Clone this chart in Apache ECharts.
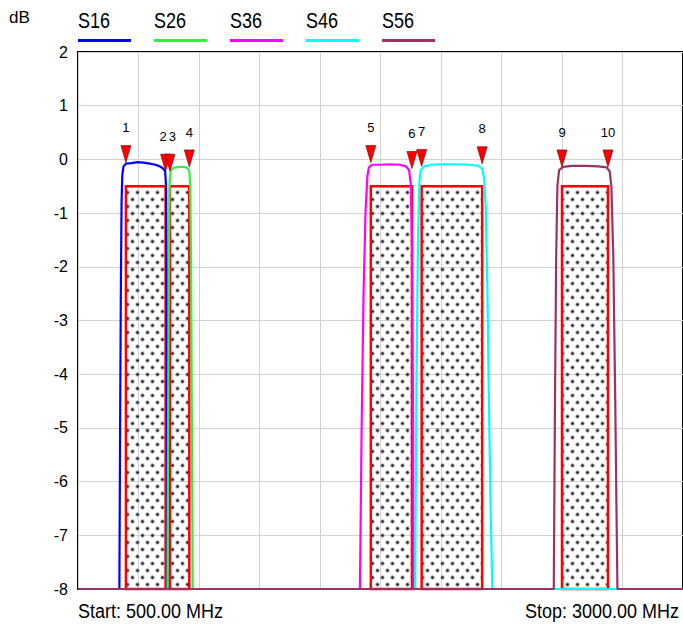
<!DOCTYPE html>
<html>
<head>
<meta charset="utf-8">
<script src="https://cdn.jsdelivr.net/npm/echarts@6/dist/echarts.min.js"></script>
<style>
html,body{margin:0;padding:0;background:#fff;}
#chart{width:683px;height:629px;}
</style>
</head>
<body>
<div id="chart"></div>
<script>
// ---- data ----
const xMin = 500, xMax = 3000, xStep = 250;
const yMin = -8, yMax = 2, yStep = 1;
const seriesNames = ['S16', 'S26', 'S36', 'S46', 'S56'];
const seriesColors = ['#0000ff', '#33ee44', '#ff00ff', '#00ffff', '#993366'];

const s16 = [[500,-8],[671,-8],[674,-5],[677,-2.5],[680,-0.8],[683,-0.3],[688,-0.13],[698,-0.08],[720,-0.07],[747,-0.05],[770,-0.06],[797,-0.08],[820,-0.1],[838,-0.13],[852,-0.17],[860,-0.22],[864,-0.5],[866,-2],[868,-5],[869.5,-8],[3000,-8]];
const s26 = [[500,-8],[870,-8],[873,-4],[876,-1.5],[879,-0.4],[883,-0.22],[892,-0.16],[906,-0.15],[925,-0.14],[940,-0.14],[952,-0.16],[960,-0.22],[964,-0.5],[967,-1.8],[970,-4.5],[974,-8],[3000,-8]];
const s36 = [[500,-8],[1665,-8],[1672,-5],[1680,-2.5],[1688,-1],[1696,-0.3],[1702,-0.15],[1715,-0.1],[1750,-0.1],[1790,-0.09],[1830,-0.1],[1855,-0.13],[1868,-0.2],[1875,-0.45],[1880,-1.5],[1884,-4.5],[1887,-8],[3000,-8]];
const s46 = [[500,-8],[1893,-8],[1899,-4],[1905,-1.5],[1911,-0.4],[1916,-0.2],[1930,-0.13],[1960,-0.1],[2000,-0.09],[2060,-0.09],[2120,-0.1],[2155,-0.12],[2170,-0.17],[2178,-0.35],[2185,-0.9],[2192,-2.5],[2198,-4.5],[2205,-6.5],[2212,-8],[3000,-8]];
const s56 = [[500,-8],[2466,-8],[2471,-4.5],[2476,-1.8],[2481,-0.5],[2488,-0.2],[2505,-0.14],[2540,-0.12],[2600,-0.12],[2650,-0.13],[2685,-0.15],[2697,-0.22],[2704,-0.5],[2712,-1.8],[2720,-4.5],[2729,-8],[3000,-8]];
const traces = [s16, s26, s36, s46, s56];

const maskStart = [698, 880, 1710, 1920, 2500];
const maskStop  = [862, 960, 1880, 2170, 2690];
const maskTop = -0.5, maskBottom = -8;

const markerLabels = ['1','2','3','4','5','6','7','8','9','10'];
const markerFreq = [698, 862, 880, 960, 1710, 1880, 1920, 2170, 2500, 2690];
const markerDb   = [-0.06, -0.22, -0.22, -0.14, -0.06, -0.17, -0.13, -0.08, -0.14, -0.14];

const yUnit = 'dB';
const startText = 'Start: 500.00 MHz';
const stopText = 'Stop: 3000.00 MHz';

// ---- dot pattern ----
function makeDots() {
  const c = document.createElement('canvas');
  c.width = 10; c.height = 14;
  const g = c.getContext('2d');
  [[2.5,3.5],[7.5,10.5]].forEach(p => {
    g.fillStyle = 'rgba(110,110,110,0.55)';
    g.beginPath(); g.arc(p[0], p[1], 2.2, 0, Math.PI*2); g.fill();
    g.fillStyle = '#222';
    g.beginPath(); g.arc(p[0], p[1], 1.2, 0, Math.PI*2); g.fill();
  });
  return c;
}
const dotPattern = { image: makeDots(), repeat: 'repeat' };

const chart = echarts.init(document.getElementById('chart'), null, { renderer: 'svg' });
const font = 'Liberation Sans, Arial, sans-serif';

const series = traces.map((d, i) => ({
  name: seriesNames[i],
  type: 'line',
  data: d,
  symbol: 'none',
  clip: false,
  lineStyle: { color: seriesColors[i], width: 2.2 },
  itemStyle: { color: seriesColors[i] },
  z: 3 + i * 0.1
}));

series.unshift({
  type: 'custom',
  name: 'mask',
  z: 2,
  data: maskStart.map((s, i) => [s, maskStop[i]]),
  renderItem: function (params, api) {
    const p1 = api.coord([api.value(0), maskTop]);
    const p2 = api.coord([api.value(1), maskBottom]);
    return {
      type: 'rect',
      shape: { x: p1[0], y: p1[1], width: p2[0] - p1[0], height: p2[1] - p1[1] },
      style: { fill: dotPattern, stroke: '#ff0000', lineWidth: 2.5 }
    };
  }
});

// small horizontal nudges so that close marker numbers (2 and 3) sit side by side
const labelNudge = { '2': -2.5, '3': 2.5 };

series.push({
  type: 'scatter',
  name: 'markers',
  z: 10,
  data: markerFreq.map((f, i) => ({
    value: [f, markerDb[i]], name: markerLabels[i],
    label: { offset: [labelNudge[markerLabels[i]] || 0, 0] }
  })),
  symbol: 'triangle',
  symbolRotate: 180,
  symbolSize: [10, 17],
  symbolOffset: [0, -8.5],
  itemStyle: { color: '#ff0000', borderColor: '#700', borderWidth: 0.6, opacity: 1 },
  label: {
    show: true, position: 'top', distance: 11,
    formatter: p => p.name,
    color: '#000', fontSize: 13, fontFamily: font
  },
  emphasis: { disabled: true }
});

const graphics = [];
seriesNames.forEach((n, i) => {
  const x0 = 78 + i * 76;
  graphics.push({
    type: 'text', left: x0, top: 10,
    style: { text: n, fill: '#000', font: '18px ' + font },
    scaleY: 1.2
  });
  graphics.push({
    type: 'line',
    shape: { x1: x0, y1: 40.5, x2: x0 + 53, y2: 40.5 },
    style: { stroke: seriesColors[i], lineWidth: 3 }
  });
});
graphics.push({ type: 'text', left: 9, top: 9, style: { text: yUnit, fill: '#000', font: '17px ' + font } });
graphics.push({ type: 'text', left: 78, top: 601, style: { text: startText, fill: '#000', font: '18px ' + font }, scaleY: 1.1 });
graphics.push({ type: 'text', right: 4, top: 601, style: { text: stopText, fill: '#000', font: '18px ' + font }, scaleY: 1.1 });

chart.setOption({
  animation: false,
  backgroundColor: '#fff',
  grid: { left: 78, top: 52, width: 607, height: 537, show: true, borderColor: '#000', borderWidth: 2, backgroundColor: 'transparent' },
  xAxis: {
    type: 'value', min: xMin, max: xMax, interval: xStep,
    axisLine: { show: false }, axisTick: { show: false }, axisLabel: { show: false },
    splitLine: { show: true, lineStyle: { color: '#d2d2d2', width: 1 } }
  },
  yAxis: {
    type: 'value', min: yMin, max: yMax, interval: yStep,
    axisLine: { show: false }, axisTick: { show: false },
    axisLabel: { color: '#000', fontSize: 16, fontFamily: font, margin: 10 },
    splitLine: { show: true, lineStyle: { color: '#d2d2d2', width: 1 } }
  },
  graphic: graphics,
  series: series
});
</script>
</body>
</html>
